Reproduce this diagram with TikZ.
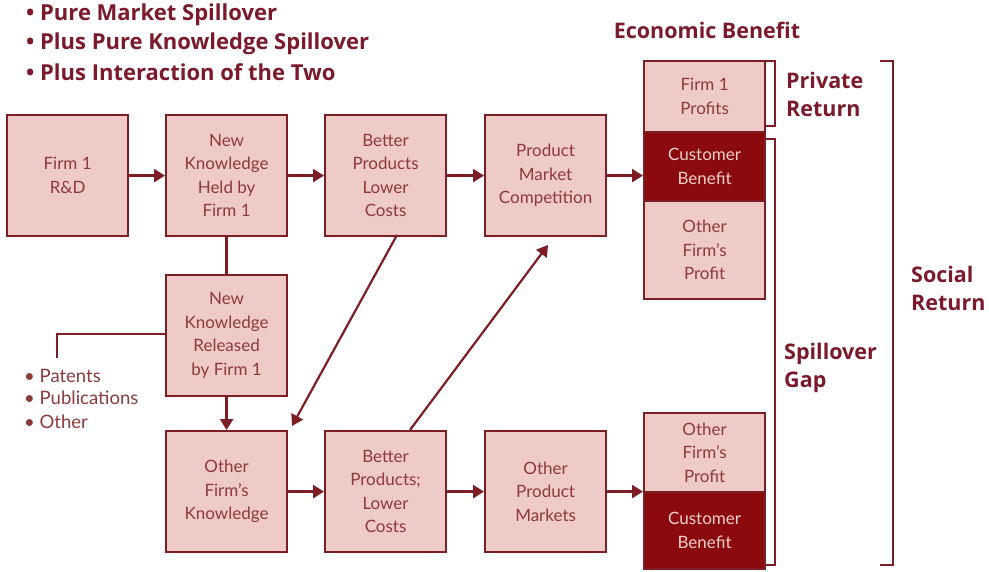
\documentclass[tikz,border=0pt]{standalone}
\usepackage{fontspec}
\setmainfont{Lato}
\newfontfamily\headfont{Open Sans}
\usetikzlibrary{arrows.meta}
\definecolor{dred}{HTML}{7D1E24}
\definecolor{pinkf}{HTML}{EFCBC8}
\definecolor{txt}{HTML}{8C3A3C}
\definecolor{cellc}{HTML}{8A0A0E}
\definecolor{celltxt}{HTML}{F5CFCB}
\definecolor{head}{HTML}{7A1A2A}
\begin{document}
\begin{tikzpicture}[x=1pt,y=-1pt,
  box/.style={draw=dred, line width=2.2pt, fill=pinkf, minimum width=121pt, minimum height=121pt,
    inner sep=0pt, align=center, font=\fontsize{17}{23.5}\selectfont, text=txt, anchor=north west},
  cellbox/.style={draw=dred, line width=2.2pt, fill=pinkf, minimum width=121pt, inner sep=0pt,
    align=center, font=\fontsize{17}{23.5}\selectfont, text=txt, anchor=north west},
  darkcell/.style={cellbox, fill=cellc, text=celltxt},
  arr/.style={draw=dred, line width=2.5pt, -{Triangle[length=11pt,width=13pt]}},
  plain/.style={draw=dred, line width=2.5pt},
  brk/.style={draw=dred, line width=2.2pt},
  headtxt/.style={font=\headfont\fontsize{22}{28}\selectfont\bfseries, text=head, align=left, inner sep=0pt},
  bigtxt/.style={headtxt, anchor=north west, font=\headfont\fontsize{21.5}{28}\selectfont\bfseries},
  small/.style={font=\fontsize{18.5}{22}\selectfont, text=txt, align=left, inner sep=0pt, anchor=west}
]
\useasboundingbox (0,0) rectangle (989,572);

% title bullets
\node[headtxt, anchor=west] (t1) at (26,15) {• Pure Market Spillover};
\node[headtxt, anchor=west] (t2) at (26,44) {• Plus Pure Knowledge Spillover};
\node[headtxt, anchor=west] (t3) at (26,72) {• Plus Interaction of the Two};
\node[headtxt, font=\headfont\fontsize{21.5}{28}\selectfont\bfseries] (eb) at (707,30) {Economic Benefit};

% row 1
\node[box] (rd) at (6,114) {Firm 1\\R\&D};
\node[box] (nkh) at (165,114) {New\\Knowledge\\Held by\\Firm 1};
\node[box] (bp1) at (324,114) {Better\\Products\\Lower\\Costs};
\node[box] (pmc) at (484,114) {Product\\Market\\Competition};

% row 2
\node[box] (nkr) at (165,274) {New\\Knowledge\\Released\\by Firm 1};

% row 3
\node[box] (ofk) at (165,430) {Other\\Firm's\\Knowledge};
\node[box] (bp2) at (324,430) {Better\\Products;\\Lower\\Costs};
\node[box] (opm) at (484,430) {Other\\Product\\Markets};

% right column top
\node[cellbox, minimum height=71pt] (f1p) at (643,60) {Firm 1\\Profits};
\node[darkcell, minimum height=69pt] (cb1) at (643,131) {Customer\\Benefit};
\node[cellbox, minimum height=98pt] (ofp1) at (643,200) {Other\\Firm's\\Profit};

% right column bottom
\node[cellbox, minimum height=79pt] (ofp2) at (643,412) {Other\\Firm's\\Profit};
\node[darkcell, minimum height=77pt] (cb2) at (643,491) {Customer\\Benefit};

% connectors
\draw[arr] (rd.east) -- (nkh.west);
\draw[arr] (nkh.east) -- (bp1.west);
\draw[arr] (bp1.east) -- (pmc.west);
\draw[arr] (pmc.east) -- (pmc.east -| cb1.west);
\draw[arr] (ofk.east) -- (bp2.west);
\draw[arr] (bp2.east) -- (opm.west);
\draw[arr] (opm.east) -- (opm.east -| cb2.west);
\draw[plain] (nkh.south) -- (nkr.north);
\draw[arr] (nkr.south) -- (ofk.north);
\coordinate (d1s) at (397,235);
\coordinate (d1e) at (292,426);
\draw[arr, line width=2.2pt] (d1s) -- (d1e);
\coordinate (d2s) at (410,430);
\coordinate (d2e) at (548,245);
\draw[arr, line width=2.2pt] (d2s) -- (d2e);

% patents branch
\coordinate (pb) at (57,334);
\coordinate (pe) at (57,358);
\draw[plain] (nkr.west |- pb) -- (pb) -- (pe);
\node[small] (pat) at (24,376) {• Patents};
\node[small] (pub) at (24,398) {• Publications};
\node[small] (oth) at (24,422) {• Other};

% brackets
\draw[brk] (766,61) -- (775,61) -- (775,126) -- (766,126);
\draw[brk] (766,139) -- (775,139) -- (775,565) -- (766,565);
\draw[brk] (880,61) -- (893,61) -- (893,565) -- (880,565);

\node[bigtxt] (pr) at (786,72) {Private\\Return};
\node[bigtxt] (sg) at (784,343) {Spillover\\Gap};
\node[bigtxt] (sr) at (911,266) {Social\\Return};
\end{tikzpicture}
\end{document}
